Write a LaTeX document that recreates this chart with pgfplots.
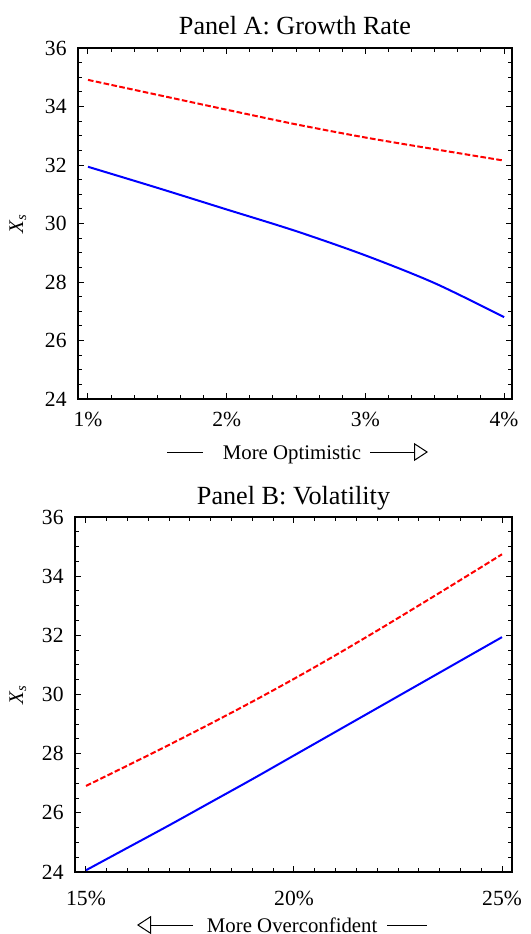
\documentclass[border=0pt]{standalone}
\usepackage{fontspec}
\setmainfont{Liberation Serif}
\usepackage{pgfplots}
\pgfplotsset{compat=1.18}
\usetikzlibrary{arrows.meta}
\begin{document}
\begin{tikzpicture}
\useasboundingbox (0,0) rectangle (265.5pt,-467pt);
\pgfplotsset{
  panel/.style={
    scale only axis,
    axis line style={line width=0.8pt},
    every tick/.style={black, line width=0.5pt},
    major tick length=3pt,
    minor tick length=1.8pt,
    ymin=24, ymax=36,
    ytick={24,26,...,36},
    minor y tick num=3,
    /pgf/number format/assume math mode=true,
    tick label style={font=\fontsize{10.8}{13}\selectfont},
    yticklabel style={anchor=east, inner sep=0pt, xshift=-5.5pt},
    title style={font=\fontsize{13.1}{15}\selectfont, at={(0.5,1)}, anchor=base},
    label style={font=\fontsize{10.4}{12}\selectfont, inner sep=0pt},
    ylabel={\textit{X}\textsubscript{\textit{s}}},
  }
}
% Panel A
\begin{axis}[panel, name=A,
  at={(39pt,-199.5pt)}, anchor=south west,
  width=217pt, height=175.5pt,
  xmin=0.928, xmax=4.057,
  xtick={1,2,3,4}, xticklabels={1\%,2\%,3\%,4\%},
  minor x tick num=5,
  xticklabel style={anchor=base, inner sep=0pt, yshift=-13.5pt},
  title={Panel A: Growth Rate},
  title style={yshift=1pt},
  xlabel={More Optimistic},
  xlabel style={at={(axis description cs:0.493,0)}, anchor=base, yshift=-30pt},
  ylabel style={at={(axis description cs:0,0.5)}, anchor=center, yshift=30pt},
]
\addplot[red, line width=1pt, smooth, dash pattern=on 2.8pt off 1.2pt] coordinates {
 (1,34.91) (1.5,34.40) (2,33.89) (2.5,33.39) (3,32.94) (3.5,32.54) (4,32.15)};
\addplot[blue, line width=1pt, smooth] coordinates {
 (1,31.94) (1.5,31.22) (2,30.48) (2.5,29.74) (3,28.91) (3.5,27.96) (4,26.80)};
\end{axis}
% Panel B
\begin{axis}[panel, name=B,
  at={(37.5pt,-436pt)}, anchor=south west,
  width=218.5pt, height=177.5pt,
  xmin=14.736, xmax=25.24,
  xtick={15,20,25}, xticklabels={15\%,20\%,25\%},
  minor x tick num=9,
  xticklabel style={anchor=base, inner sep=0pt, yshift=-16.5pt},
  title={Panel B: Volatility},
  title style={yshift=0.5pt},
  xlabel={More Overconfident},
  xlabel style={at={(axis description cs:0.497,0)}, anchor=base, yshift=-30pt},
  ylabel style={at={(axis description cs:0,0.5)}, anchor=center, yshift=28.5pt},
]
\addplot[red, line width=1pt, smooth, dash pattern=on 2.8pt off 1.2pt] coordinates {
 (15,26.91) (16,27.60) (17,28.30) (18,29.02) (19,29.76) (20,30.53) (21,31.33) (22,32.16) (23,33.01) (24,33.87) (25,34.74)};
\addplot[blue, line width=1pt, smooth] coordinates {
 (15,24.06) (16,24.82) (17,25.58) (18,26.36) (19,27.14) (20,27.94) (21,28.74) (22,29.54) (23,30.34) (24,31.14) (25,31.94)};
\end{axis}
% arrow decorations of the axis labels
\begin{scope}[x=0.5pt, y=-0.5pt, line width=0.5pt]
\draw (167,452) -- (203,452);
\draw[-{Triangle[open, length=7pt, width=9pt]}] (370,452) -- (428,452);
\draw[-{Triangle[open, length=7pt, width=9pt]}] (193,925) -- (137,925);
\draw (387,925) -- (427,925);
\end{scope}
\end{tikzpicture}
\end{document}
